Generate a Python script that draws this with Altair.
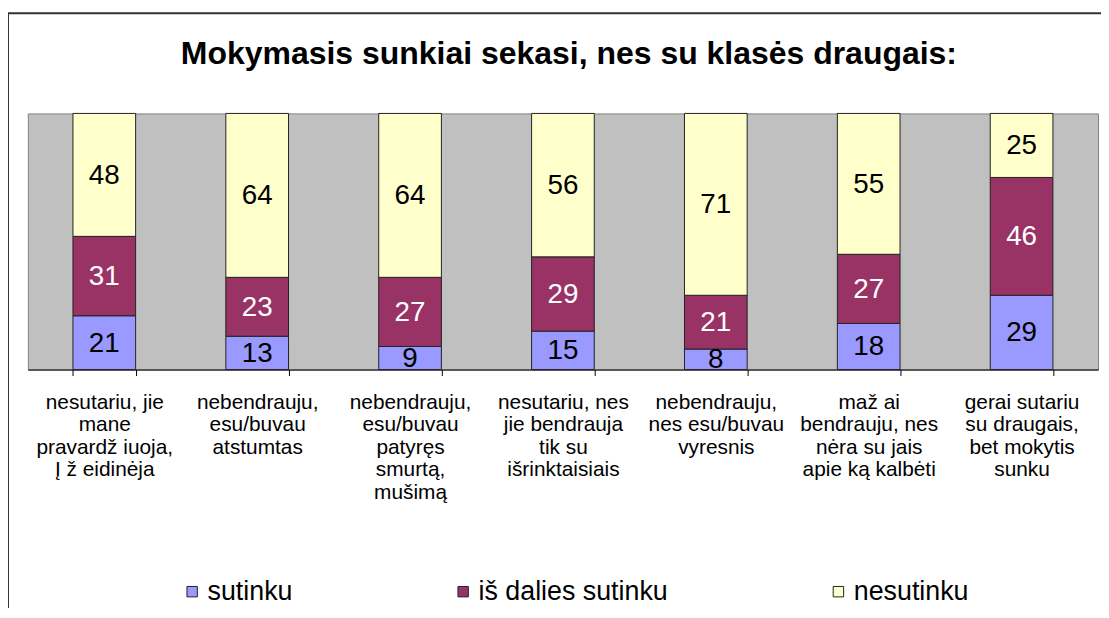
import altair as alt
import pandas as pd

categories = [
    "nesutariu, jie\nmane\npravardž iuoja,\nĮ ž eidinėja",
    "nebendrauju,\nesu/buvau\natstumtas",
    "nebendrauju,\nesu/buvau\npatyręs\nsmurtą,\nmušimą",
    "nesutariu, nes\njie bendrauja\ntik su\nišrinktaisiais",
    "nebendrauju,\nnes esu/buvau\nvyresnis",
    "maž ai\nbendrauju, nes\nnėra su jais\napie ką kalbėti",
    "gerai sutariu\nsu draugais,\nbet mokytis\nsunku",
]
series = ["sutinku", "iš dalies sutinku", "nesutinku"]
sutinku = [21, 13, 9, 15, 8, 18, 29]
is_dalies = [31, 23, 27, 29, 21, 27, 46]
nesutinku = [48, 64, 64, 56, 71, 55, 25]
colors = ["#9999FF", "#993366", "#FFFFCC"]

rows = []
for i, c in enumerate(categories):
    for j, (s, vals) in enumerate(zip(series, [sutinku, is_dalies, nesutinku])):
        rows.append({"cat": c, "series": s, "idx": j, "value": vals[i]})
df = pd.DataFrame(rows)

FONT = "Liberation Sans"

xenc = alt.X(
    "cat:N",
    sort=categories,
    scale=alt.Scale(paddingInner=0.59, paddingOuter=0.295),
    axis=alt.Axis(
        title=None,
        labelAngle=0,
        labelExpr="split(datum.label, '\\n')",
        labelFontSize=21,
        labelLineHeight=22.7,
        labelFont=FONT,
        labelColor="#000000",
        labelPadding=16,
        labelLimit=200,
        tickBand="extent",
        tickSize=6,
        tickColor="#000000",
        domainColor="#000000",
        domainWidth=1,
    ),
)

base = alt.Chart(df)

bars = base.mark_bar(stroke="#222222", strokeWidth=1).encode(
    x=xenc,
    y=alt.Y("value:Q", stack="zero", scale=alt.Scale(domain=[0, 100]), axis=None),
    color=alt.Color(
        "series:N",
        sort=series,
        scale=alt.Scale(domain=series, range=colors),
        legend=alt.Legend(
            title=None,
            orient="none",
            legendX=152,
            legendY=468,
            direction="horizontal",
            columns=3,
            columnPadding=158,
            symbolType="square",
            symbolSize=110,
            symbolStrokeColor="#222222",
            symbolStrokeWidth=1,
            labelFontSize=27,
            labelFont=FONT,
            labelColor="#000000",
            labelOffset=2,
            labelLimit=400,
        ),
    ),
    order=alt.Order("idx:Q"),
)

labels = (
    base.transform_stack(
        stack="value", as_=["y0", "y1"], groupby=["cat"], sort=[alt.SortField("idx")]
    )
    .transform_calculate(mid="(datum.y0 + datum.y1) / 2")
    .mark_text(fontSize=28, font=FONT, baseline="middle", align="center", dy=1)
    .encode(
        x=alt.X("cat:N", sort=categories),
        y=alt.Y("mid:Q", scale=alt.Scale(domain=[0, 100]), axis=None),
        text=alt.Text("value:Q", format="d"),
        color=alt.condition(
            alt.datum.series == "iš dalies sutinku", alt.value("#FFFFFF"), alt.value("#000000")
        ),
    )
)

frame = (
    alt.Chart(pd.DataFrame({"a": [0]}))
    .mark_rect(filled=False, stroke="#333333", strokeWidth=2)
    .encode(
        x=alt.value(-20),
        x2=alt.value(1200),
        y=alt.value(-101),
        y2=alt.value(700),
    )
)

chart = (
    alt.layer(bars, labels, frame)
    .properties(
        width=1078,
        height=258,
        autosize=alt.AutoSizeParams(type="none"),
        padding={"left": 20, "top": 104, "right": 3, "bottom": 238},
        title=alt.TitleParams(
            "Mokymasis sunkiai sekasi, nes su klasės draugais:",
            font=FONT,
            fontSize=32.2,
            fontWeight="bold",
            color="#000000",
            anchor="middle",
            frame="group",
            offset=-59,
            dx=6,
        ),
    )
    .configure(background="#FFFFFF")
    .configure_view(fill="#C0C0C0", stroke="#808080", strokeWidth=1)
)

chart.save("out.html", embed_options={"renderer": "svg", "actions": False})
